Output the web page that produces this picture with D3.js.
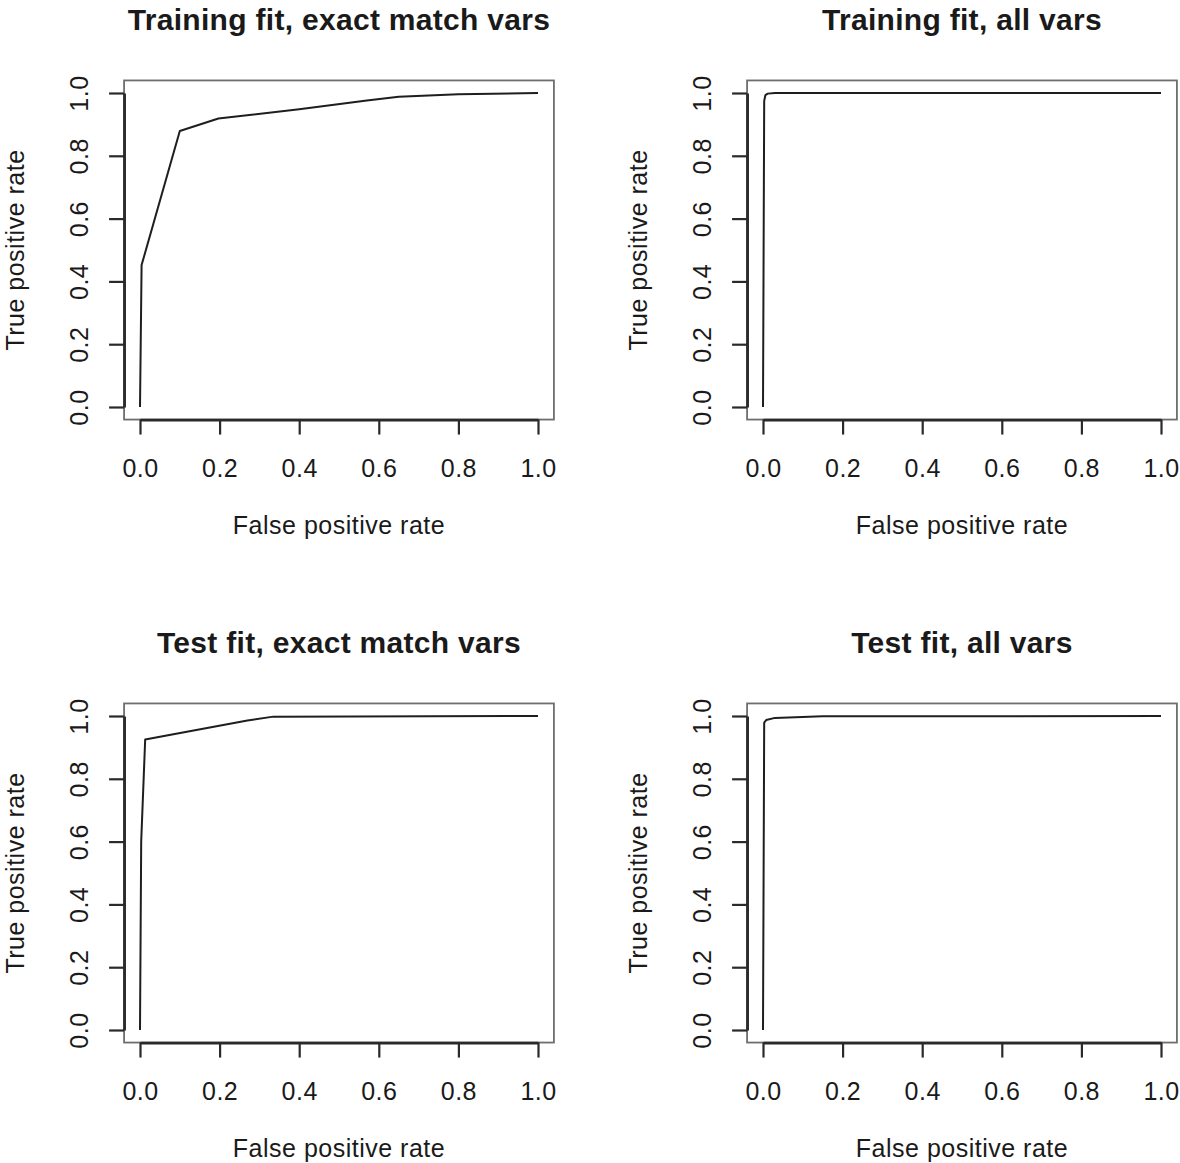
<!DOCTYPE html>
<html>
<head>
<meta charset="utf-8">
<script src="https://cdn.jsdelivr.net/npm/d3@7"></script>
<style>
  html, body { margin: 0; padding: 0; background: #fff; }
  svg { display: block; }
  text { font-family: "Liberation Sans", Arial, sans-serif; fill: #1a1a1a; }
</style>
</head>
<body>
<svg id="chart" width="1180" height="1163"></svg>
<script>
// ROC curves: false positive rate (x) vs true positive rate (y)
const panelTitles = [
  "Training fit, exact match vars",
  "Training fit, all vars",
  "Test fit, exact match vars",
  "Test fit, all vars"
];
const trainExactFpr = [0, 0.004, 0.100, 0.197, 0.400, 0.570, 0.650, 0.800, 1];
const trainExactTpr = [0, 0.452, 0.879, 0.919, 0.948, 0.976, 0.988, 0.996, 1];
const trainAllFpr   = [0, 0.003, 0.006, 0.012, 0.030, 1];
const trainAllTpr   = [0, 0.975, 0.993, 0.998, 1.000, 1];
const testExactFpr  = [0, 0.003, 0.013, 0.270, 0.335, 1];
const testExactTpr  = [0, 0.600, 0.925, 0.986, 0.998, 1];
const testAllFpr    = [0, 0.003, 0.008, 0.030, 0.150, 1];
const testAllTpr    = [0, 0.979, 0.987, 0.994, 0.999, 1];
const tickValues = [0, 0.2, 0.4, 0.6, 0.8, 1.0];
const tickLabels = ["0.0", "0.2", "0.4", "0.6", "0.8", "1.0"];
const xAxisTitle = "False positive rate";
const yAxisTitle = "True positive rate";

const curves = [
  [trainExactFpr, trainExactTpr],
  [trainAllFpr, trainAllTpr],
  [testExactFpr, testExactTpr],
  [testAllFpr, testAllTpr]
];

const svg = d3.select("#chart");
const cellW = 623, cellH = 623;
// plot region inside a cell (data range 0..1 plus 4% padding each side)
const x0 = 140, x1 = 538, y0 = 407, y1 = 93;
const pad = 0.04;

curves.forEach((c, i) => {
  const col = i % 2, row = Math.floor(i / 2);
  const g = svg.append("g").attr("transform", `translate(${col * cellW},${row * cellH})`);

  const x = d3.scaleLinear().domain([0, 1]).range([x0, x1]);
  const y = d3.scaleLinear().domain([0, 1]).range([y0, y1]);
  const bx0 = x(-pad), bx1 = x(1 + pad), by0 = y(-pad), by1 = y(1 + pad);

  // plot box
  g.append("rect")
    .attr("x", bx0).attr("y", by1)
    .attr("width", bx1 - bx0).attr("height", by0 - by1)
    .attr("fill", "none").attr("stroke", "#6e6e6e").attr("stroke-width", 1.8);

  // bottom axis
  const xa = g.append("g").attr("transform", `translate(0,${by0})`)
    .call(d3.axisBottom(x).tickValues(tickValues).tickFormat((d, k) => tickLabels[k])
      .tickSize(15).tickSizeOuter(0).tickPadding(26));
  // left axis
  const ya = g.append("g").attr("transform", `translate(${bx0},0)`)
    .call(d3.axisLeft(y).tickValues(tickValues).tickFormat((d, k) => tickLabels[k])
      .tickSize(15).tickSizeOuter(0).tickPadding(0));

  [xa, ya].forEach(a => {
    a.select(".domain").attr("stroke", "#2a2a2a").attr("stroke-width", 2.8);
    a.selectAll(".tick line").attr("stroke", "#2a2a2a").attr("stroke-width", 2.2);
    a.selectAll("text").attr("font-size", 25).attr("letter-spacing", 0.5)
      .attr("fill", "#1a1a1a").style("font-family", '"Liberation Sans", Arial, sans-serif');
  });
  xa.selectAll(".tick text").attr("y", 57).attr("dy", 0);
  ya.selectAll(".tick text")
    .attr("text-anchor", "middle")
    .attr("x", 0).attr("dy", 0)
    .attr("transform", "translate(-36,0) rotate(-90)");

  // ROC curve
  const pts = c[0].map((v, k) => [v, c[1][k]]);
  g.append("path")
    .datum(pts)
    .attr("fill", "none").attr("stroke", "#1e1e1e").attr("stroke-width", 2)
    .attr("stroke-linejoin", "round")
    .attr("d", d3.line().x(d => x(d[0])).y(d => y(d[1])));

  // titles and axis labels
  g.append("text")
    .attr("x", (bx0 + bx1) / 2).attr("y", 30)
    .attr("text-anchor", "middle").attr("font-size", 30).attr("font-weight", "bold")
    .attr("letter-spacing", 0.3)
    .text(panelTitles[i]);
  g.append("text")
    .attr("x", (x0 + x1) / 2 + 0).attr("y", 534)
    .attr("text-anchor", "middle").attr("font-size", 25).attr("letter-spacing", 0.5)
    .text(xAxisTitle);
  g.append("text")
    .attr("transform", `translate(24,${(y0 + y1) / 2}) rotate(-90)`)
    .attr("text-anchor", "middle").attr("font-size", 25).attr("letter-spacing", 0.5)
    .text(yAxisTitle);
});
</script>
</body>
</html>
